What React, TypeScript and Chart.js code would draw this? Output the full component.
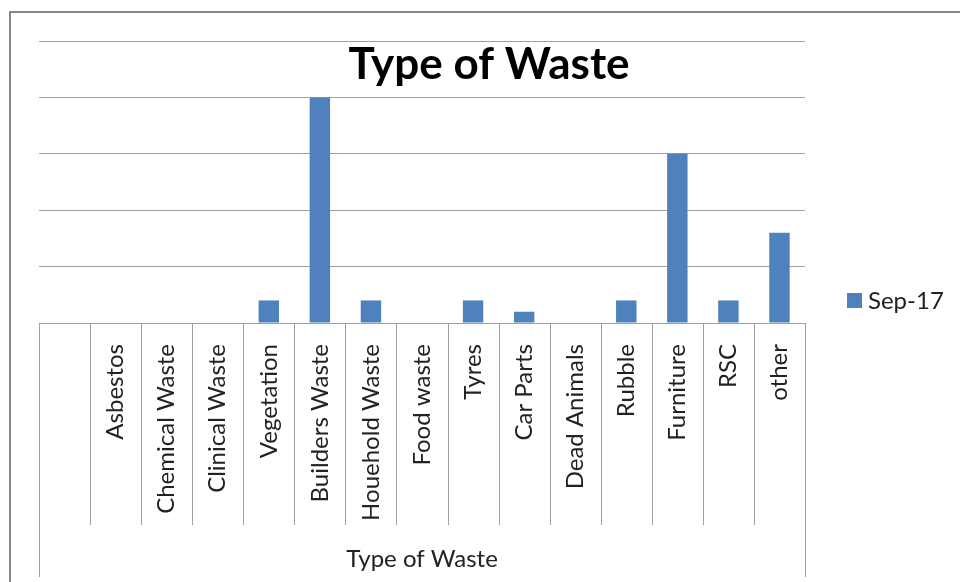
import React, { useEffect, useRef } from "react";
import { Chart, registerables } from "chart.js";

Chart.register(...registerables);

const categories = [
  "",
  "Asbestos",
  "Chemical Waste",
  "Clinical Waste",
  "Vegetation",
  "Builders Waste",
  "Houehold Waste",
  "Food waste",
  "Tyres",
  "Car Parts",
  "Dead Animals",
  "Rubble",
  "Furniture",
  "RSC",
  "other",
];
const seriesLabel = "Sep-17";
const seriesValues = [0, 0, 0, 0, 2, 20, 2, 0, 2, 1, 0, 2, 15, 2, 8];
const chartTitle = "Type of Waste";
const groupLabel = "Type of Waste";

const FONT = "Lato, 'Open Sans', sans-serif";
const BAR = "#4F81BD";
const GRID = "#a0a0a0";

const decorPlugin = {
  id: "decor",
  afterDraw(chart: any) {
    const ctx = chart.ctx;
    const x = chart.scales.x;
    const area = chart.chartArea;
    const n = categories.length;
    const step = (area.right - area.left) / n;
    ctx.save();
    // outer border
    ctx.strokeStyle = "#878787";
    ctx.lineWidth = 2;
    ctx.beginPath();
    ctx.moveTo(10, 600);
    ctx.lineTo(10, 12);
    ctx.lineTo(980, 12);
    ctx.stroke();
    // category separators
    ctx.strokeStyle = GRID;
    ctx.lineWidth = 1;
    for (let i = 0; i <= n; i++) {
      const px = Math.round(x.getPixelForValue(i) - step / 2) + 0.5;
      const end = i === 0 || i === n ? 577 : 525;
      ctx.beginPath();
      ctx.moveTo(px, area.bottom);
      ctx.lineTo(px, end);
      ctx.stroke();
    }
    // group label
    ctx.fillStyle = "#222";
    ctx.font = `24px ${FONT}`;
    ctx.textAlign = "center";
    ctx.textBaseline = "middle";
    ctx.fillText(groupLabel, (area.left + area.right) / 2, 559);
    // title
    ctx.font = `bold 44px ${FONT}`;
    ctx.fillStyle = "#000";
    ctx.fillText(chartTitle, 489, 65);
    // legend
    ctx.fillStyle = BAR;
    ctx.fillRect(847, 293, 15, 15);
    ctx.fillStyle = "#222";
    ctx.font = `24px ${FONT}`;
    ctx.textAlign = "left";
    ctx.fillText(seriesLabel, 868, 301);
    ctx.restore();
  },
};

export default function App() {
  const ref = useRef<HTMLCanvasElement>(null);
  useEffect(() => {
    if (!ref.current) return;
    const chart = new Chart(ref.current, {
      type: "bar",
      data: {
        labels: categories,
        datasets: [
          {
            label: seriesLabel,
            data: seriesValues,
            backgroundColor: BAR,
            barPercentage: 0.4,
            categoryPercentage: 1,
          },
        ],
      },
      options: {
        animation: false,
        responsive: true,
        maintainAspectRatio: false,
        layout: { padding: { left: 39, right: 155, top: 41, bottom: 0 } },
        plugins: {
          legend: { display: false },
          title: { display: false },
          tooltip: { enabled: false },
        },
        scales: {
          x: {
            grid: { display: false },
            border: { display: true, color: GRID, width: 1 },
            ticks: {
              minRotation: 90,
              maxRotation: 90,
              autoSkip: false,
              padding: 13,
              color: "#222",
              font: { family: FONT, size: 24 },
            },
            afterFit(scale: any) {
              scale.height = 259;
            },
          },
          y: {
            min: 0,
            max: 25,
            ticks: { stepSize: 5, display: false },
            grid: { color: GRID, drawTicks: false, lineWidth: 1 },
            border: { display: false },
            afterFit(scale: any) {
              scale.width = 0;
            },
          },
        },
      },
      plugins: [decorPlugin],
    });
    return () => chart.destroy();
  }, []);
  return (
    <div style={{ position: "fixed", left: 0, top: 0, width: 960, height: 582, background: "#fff" }}>
      <canvas ref={ref} />
    </div>
  );
}
